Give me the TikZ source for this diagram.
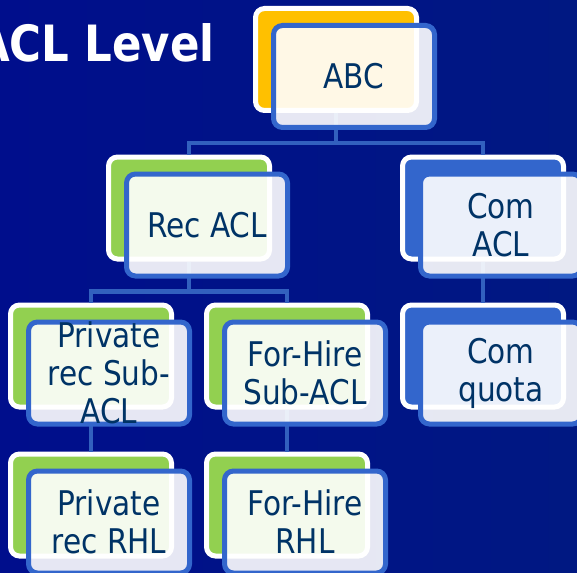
\documentclass[tikz,border=0pt]{standalone}
\usepackage{fontspec}
\setmainfont{DejaVu Sans}[FakeStretch=0.87]
\usepackage{tikz}
\definecolor{bgleft}{RGB}{0,14,140}
\definecolor{bgright}{RGB}{0,24,130}
\definecolor{abcyellow}{RGB}{255,192,0}
\definecolor{recgreen}{RGB}{146,208,80}
\definecolor{comblue}{RGB}{51,102,204}
\definecolor{linkblue}{RGB}{50,96,190}
\definecolor{textblue}{RGB}{0,51,102}
\tikzstyle{back node}  = [rectangle,rounded corners=9pt,draw=white,line width=5pt,
                          minimum width=161pt,minimum height=102pt,inner sep=0pt]
\tikzstyle{front node} = [rectangle,rounded corners=9pt,draw=comblue,line width=5pt,
                          fill=white,fill opacity=0.9,
                          minimum width=161pt,minimum height=102pt,inner sep=0pt]
\tikzstyle{box text}   = [text=textblue,align=center,font=\fontsize{34}{38}\selectfont]

\begin{document}
\begin{tikzpicture}[x=1pt,y=1pt,
                    grow = down,
                    edge from parent/.style={draw=linkblue,line width=4.5pt},
                    edge from parent path={(\tikzparentnode.south) -- ++(0,-30) -| (\tikzchildnode.north)}
                    ]
\tikzstyle{level 1}=[level distance=148.5pt, sibling distance=294pt]
\tikzstyle{level 2}=[level distance=148pt, sibling distance=196pt]
\tikzstyle{level 3}=[level distance=149pt]

    \useasboundingbox (0,0) rectangle (577,-572);
    \shade[left color=bgleft, right color=bgright] (0,0) rectangle (577,-572);

    \node(title)[anchor=base east, text=white, font=\fontsize{50}{56}\selectfont\bfseries] at (218,-62) {ACL Level};

    \node(abc)[back node, fill=abcyellow] at (336,-59.5) {}
        % recreational side
        child{node(rec)[back node, fill=recgreen]{}
            child{node(privsub)[back node, fill=recgreen]{}
                child{node(privrhl)[back node, fill=recgreen]{}}
            }
            child{node(hiresub)[back node, fill=recgreen]{}
                child{node(hirerhl)[back node, fill=recgreen]{}}
            }
        }
        % commercial side
        child{node(com)[back node, fill=comblue]{}
            child{node(quota)[back node, fill=comblue]{}}
        }
    ;

    % light boxes on top, shifted down and right
    \node(abc-f)[front node] at ([shift={(18,-17)}]abc.center) {};
    \node(rec-f)[front node] at ([shift={(18,-17)}]rec.center) {};
    \node(com-f)[front node] at ([shift={(18,-17)}]com.center) {};
    \node(privsub-f)[front node] at ([shift={(18,-17)}]privsub.center) {};
    \node(hiresub-f)[front node] at ([shift={(18,-17)}]hiresub.center) {};
    \node(quota-f)[front node] at ([shift={(18,-17)}]quota.center) {};
    \node(privrhl-f)[front node] at ([shift={(18,-17)}]privrhl.center) {};
    \node(hirerhl-f)[front node] at ([shift={(18,-17)}]hirerhl.center) {};

    \node(abc-t)[box text] at (abc-f) {ABC};
    \node(rec-t)[box text] at (rec-f) {Rec ACL};
    \node(com-t)[box text] at (com-f) {Com\\ACL};
    \node(privsub-t)[box text] at (privsub-f) {Private\\rec Sub-\\ACL};
    \node(hiresub-t)[box text] at (hiresub-f) {For-Hire\\Sub-ACL};
    \node(quota-t)[box text] at (quota-f) {Com\\quota};
    \node(privrhl-t)[box text] at (privrhl-f) {Private\\rec RHL};
    \node(hirerhl-t)[box text] at (hirerhl-f) {For-Hire\\RHL};

\end{tikzpicture}
\end{document}
